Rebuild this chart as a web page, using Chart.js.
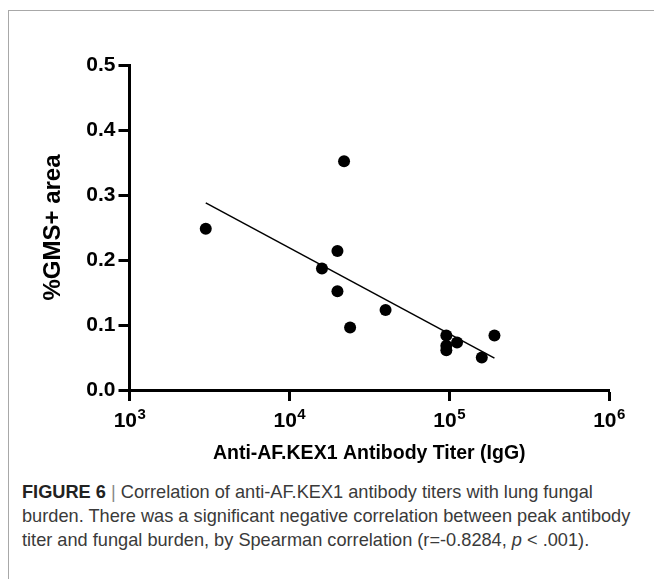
<!DOCTYPE html>
<html>
<head>
<meta charset="utf-8">
<script src="https://cdn.jsdelivr.net/npm/chart.js@4/dist/chart.umd.min.js"></script>
<style>
  html, body { margin: 0; padding: 0; background: #fff; }
  body { width: 654px; height: 579px; overflow: hidden; position: relative; }
  .frame {
    position: absolute; left: 8px; top: 10px; width: 700px; height: 700px;
    border-left: 1px solid #a8a8a8; border-top: 1px solid #a8a8a8;
  }
  #chart { position: absolute; left: 0; top: 0; }
  .caption {
    position: absolute; left: 22px; top: 480px; width: 632px;
    font-family: "Liberation Sans", Arial, sans-serif; font-size: 18.2px;
    line-height: 24px; color: #3a3a3a; white-space: nowrap;
  }
  .caption b { color: #222; }
  .caption .bar { color: #888; }
</style>
</head>
<body>
<div class="frame"></div>
<canvas id="chart" width="654" height="480"></canvas>
<div class="caption">
  <b>FIGURE 6</b> <span class="bar">|</span> Correlation of anti-AF.KEX1 antibody titers with lung fungal<br>
  burden. There was a significant negative correlation between peak antibody<br>
  titer and fungal burden, by Spearman correlation (r=-0.8284, <i>p</i> &lt; .001).
</div>
<script>
// antibody titer (IgG) per animal and matching %GMS+ area
const titers = [3000, 22000, 20000, 16000, 20000, 24000, 40000, 96000, 96000, 96000, 112000, 160000, 192000];
const gmsArea = [0.248, 0.352, 0.214, 0.187, 0.152, 0.096, 0.123, 0.084, 0.068, 0.061, 0.073, 0.050, 0.084];

// fitted line ends
const fitX = [3000, 192000];
const fitY = [0.288, 0.049];

const xTicks = [1e3, 1e4, 1e5, 1e6];
const yTicks = [0, 0.1, 0.2, 0.3, 0.4, 0.5];

const FONT = '"Liberation Sans", Arial, sans-serif';

// x tick labels as 10 with a raised exponent
const powerLabels = {
    id: 'powerLabels',
    afterDraw(chart) {
        const ctx = chart.ctx;
        const xs = chart.scales.x;
        ctx.save();
        ctx.fillStyle = '#000';
        ctx.textBaseline = 'alphabetic';
        ctx.textAlign = 'left';
        xTicks.forEach(v => {
            const px = xs.getPixelForValue(v);
            const exp = String(Math.round(Math.log10(v)));
            ctx.font = 'bold 21px ' + FONT;
            const wBase = ctx.measureText('10').width;
            ctx.font = 'bold 15px ' + FONT;
            const wExp = ctx.measureText(exp).width;
            const start = px - (wBase + wExp) / 2;
            ctx.font = 'bold 21px ' + FONT;
            ctx.fillText('10', start, xs.top + 36.5);
            ctx.font = 'bold 15px ' + FONT;
            ctx.fillText(exp, start + wBase + 0.5, xs.top + 29);
        });
        ctx.restore();
    }
};

new Chart(document.getElementById('chart'), {
    type: 'scatter',
    data: {
        datasets: [{
            label: 'animals',
            data: titers.map((t, i) => ({x: t, y: gmsArea[i]})),
            backgroundColor: '#000',
            borderWidth: 0,
            pointRadius: 6,
            order: 1
        }, {
            label: 'fit',
            type: 'line',
            data: fitX.map((t, i) => ({x: t, y: fitY[i]})),
            borderColor: '#000',
            borderWidth: 1.5,
            pointRadius: 0,
            fill: false,
            order: 2
        }]
    },
    options: {
        responsive: false,
        animation: false,
        devicePixelRatio: 1,
        layout: {
            padding: {left: 0, top: 65, right: 45, bottom: 10}
        },
        plugins: {
            legend: {display: false},
            tooltip: {enabled: false}
        },
        scales: {
            x: {
                type: 'logarithmic',
                min: 1e3,
                max: 1e6,
                afterBuildTicks: s => { s.ticks = xTicks.map(v => ({value: v})); },
                afterFit: s => { s.height = 80; },
                ticks: {display: false},
                grid: {drawOnChartArea: false, drawTicks: true, tickLength: 11, tickWidth: 3, tickColor: '#000'},
                border: {display: true, width: 3, color: '#000'},
                title: {
                    display: true,
                    text: 'Anti-AF.KEX1 Antibody Titer (IgG)',
                    color: '#000',
                    font: {family: FONT, size: 19.5, weight: 'bold'},
                    padding: {top: 0, bottom: 5}
                }
            },
            y: {
                min: 0,
                max: 0.5,
                afterBuildTicks: s => { s.ticks = yTicks.map(v => ({value: v})); },
                afterFit: s => { s.width = 129.5; },
                ticks: {
                    color: '#000',
                    padding: 3,
                    font: {family: FONT, size: 21, weight: 'bold'},
                    callback: v => Number(v).toFixed(1)
                },
                grid: {drawOnChartArea: false, drawTicks: true, tickLength: 11, tickWidth: 3, tickColor: '#000'},
                border: {display: true, width: 3, color: '#000'},
                title: {
                    display: true,
                    text: '%GMS+ area',
                    color: '#000',
                    font: {family: FONT, size: 24, weight: 'bold'},
                    padding: {top: 39, bottom: 0}
                }
            }
        }
    },
    plugins: [powerLabels]
});
</script>
</body>
</html>
